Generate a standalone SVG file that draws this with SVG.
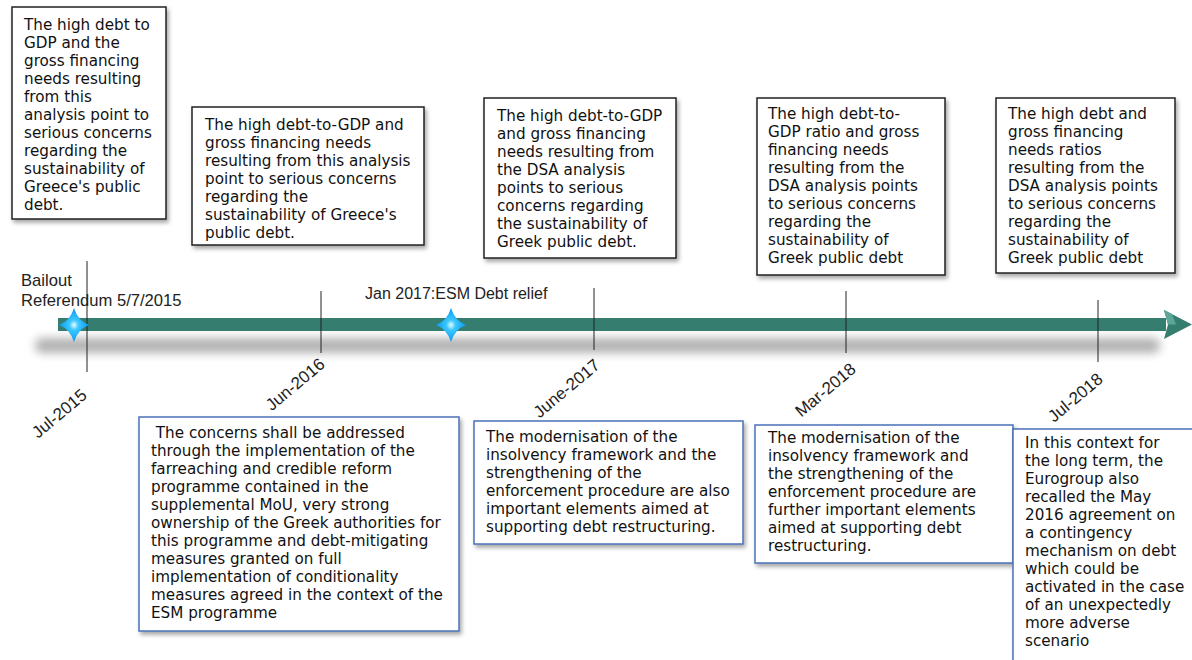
<svg xmlns="http://www.w3.org/2000/svg" width="1192" height="660" viewBox="0 0 1192 660">
<defs>
<style>
.bt{font-family:"DejaVu Sans",Verdana,sans-serif;font-size:15.2px;fill:#111}
.lb{font-family:"Liberation Sans",Arial,sans-serif;font-size:16.6px;fill:#222}
.lb2{font-family:"Liberation Sans",Arial,sans-serif;font-size:16px;fill:#222}
.dt{font-family:"Liberation Sans",Arial,sans-serif;font-size:17px;fill:#222}
.tb{fill:#fff;stroke:#222;stroke-width:1.5}
.bb{fill:#fff;stroke:#4a72b8;stroke-width:1.5}
.tick{stroke:#222;stroke-width:1}
</style>
<filter id="sh" x="-10%" y="-10%" width="130%" height="130%">
<feDropShadow dx="2" dy="3" stdDeviation="2" flood-color="#000" flood-opacity="0.35"/>
</filter>
<filter id="blur" x="-5%" y="-200%" width="110%" height="500%">
<feGaussianBlur stdDeviation="5"/>
</filter>
<radialGradient id="sg" cx="0.5" cy="0.5" r="0.5">
<stop offset="0" stop-color="#e6fbff"/>
<stop offset="0.3" stop-color="#3cc8ff"/>
<stop offset="1" stop-color="#0a98f0"/>
</radialGradient>
<path id="star" d="M0,-17 Q4,-4 15,0 Q4,4 0,17 Q-4,4 -15,0 Q-4,-4 0,-17 Z"/>
</defs>
<rect width="1192" height="660" fill="#fff"/>

<g id="timeline">
<rect x="35" y="338" width="1125" height="15" rx="7" fill="#888" opacity="0.65" filter="url(#blur)"/>
<rect x="58" y="318" width="1108" height="13" fill="#357d6f"/>
<polygon points="1164,310 1192,324.5 1164,339 1168,324.5" fill="#357d6f"/>
<polygon points="1164,310 1172,314 1176,324.5 1168,324.5" fill="#5aa797"/>
</g>

<g id="connectors">
<line class="tick" x1="87" y1="261" x2="87" y2="372"/>
<line class="tick" x1="321" y1="291" x2="321" y2="353"/>
<line class="tick" x1="594" y1="288" x2="594" y2="350"/>
<line class="tick" x1="846" y1="291" x2="846" y2="353"/>
<line class="tick" x1="1098" y1="300" x2="1098" y2="362"/>
</g>

<g id="stars">
<use href="#star" x="74" y="325" fill="url(#sg)"/>
<use href="#star" x="451" y="325" fill="url(#sg)"/>
</g>

<g id="event-labels">
<text class="lb" x="21" y="286">Bailout</text>
<text class="lb" x="21" y="306">Referendum 5/7/2015</text>
<text class="lb2" x="365" y="299">Jan 2017:ESM Debt relief</text>
</g>

<g id="dates">
<text class="dt" text-anchor="end" transform="translate(88,397) rotate(-40)">Jul-2015</text>
<text class="dt" text-anchor="end" transform="translate(326,366) rotate(-40)">Jun-2016</text>
<text class="dt" text-anchor="end" transform="translate(601,367) rotate(-40)">June-2017</text>
<text class="dt" text-anchor="end" transform="translate(857,371) rotate(-40)">Mar-2018</text>
<text class="dt" text-anchor="end" transform="translate(1104,381) rotate(-40)">Jul-2018</text>
</g>

<g id="box-jul2015">
<rect class="tb" x="12" y="7" width="154" height="212" filter="url(#sh)"/>
<text class="bt" x="24" y="30">The high debt to<tspan x="24" dy="18">GDP and the</tspan><tspan x="24" dy="18">gross financing</tspan><tspan x="24" dy="18">needs resulting</tspan><tspan x="24" dy="18">from this</tspan><tspan x="24" dy="18">analysis point to</tspan><tspan x="24" dy="18">serious concerns</tspan><tspan x="24" dy="18">regarding the</tspan><tspan x="24" dy="18">sustainability of</tspan><tspan x="24" dy="18">Greece's public</tspan><tspan x="24" dy="18">debt.</tspan></text>
</g>

<g id="box-jun2016">
<rect class="tb" x="192" y="107" width="232" height="138" filter="url(#sh)"/>
<text class="bt" x="205" y="130">The high debt-to-GDP and<tspan x="205" dy="18">gross financing needs</tspan><tspan x="205" dy="18">resulting from this analysis</tspan><tspan x="205" dy="18">point to serious concerns</tspan><tspan x="205" dy="18">regarding the</tspan><tspan x="205" dy="18">sustainability of Greece's</tspan><tspan x="205" dy="18">public debt.</tspan></text>
</g>

<g id="box-jun2017">
<rect class="tb" x="484" y="98" width="192" height="160" filter="url(#sh)"/>
<text class="bt" x="497" y="121">The high debt-to-GDP<tspan x="497" dy="18">and gross financing</tspan><tspan x="497" dy="18">needs resulting from</tspan><tspan x="497" dy="18">the DSA analysis</tspan><tspan x="497" dy="18">points to serious</tspan><tspan x="497" dy="18">concerns regarding</tspan><tspan x="497" dy="18">the sustainability of</tspan><tspan x="497" dy="18">Greek public debt.</tspan></text>
</g>

<g id="box-mar2018">
<rect class="tb" x="757" y="98" width="188" height="177" filter="url(#sh)"/>
<text class="bt" x="768" y="119">The high debt-to-<tspan x="768" dy="18">GDP ratio and gross</tspan><tspan x="768" dy="18">financing needs</tspan><tspan x="768" dy="18">resulting from the</tspan><tspan x="768" dy="18">DSA analysis points</tspan><tspan x="768" dy="18">to serious concerns</tspan><tspan x="768" dy="18">regarding the</tspan><tspan x="768" dy="18">sustainability of</tspan><tspan x="768" dy="18">Greek public debt</tspan></text>
</g>

<g id="box-jul2018">
<rect class="tb" x="996" y="98" width="179" height="175" filter="url(#sh)"/>
<text class="bt" x="1008" y="119">The high debt and<tspan x="1008" dy="18">gross financing</tspan><tspan x="1008" dy="18">needs ratios</tspan><tspan x="1008" dy="18">resulting from the</tspan><tspan x="1008" dy="18">DSA analysis points</tspan><tspan x="1008" dy="18">to serious concerns</tspan><tspan x="1008" dy="18">regarding the</tspan><tspan x="1008" dy="18">sustainability of</tspan><tspan x="1008" dy="18">Greek public debt</tspan></text>
</g>

<g id="note-jun2016">
<rect class="bb" x="139" y="417" width="320" height="214" filter="url(#sh)"/>
<text class="bt" x="151" y="438" xml:space="preserve"> The concerns shall be addressed<tspan x="151" dy="18">through the implementation of the</tspan><tspan x="151" dy="18">farreaching and credible reform</tspan><tspan x="151" dy="18">programme contained in the</tspan><tspan x="151" dy="18">supplemental MoU, very strong</tspan><tspan x="151" dy="18">ownership of the Greek authorities for</tspan><tspan x="151" dy="18">this programme and debt-mitigating</tspan><tspan x="151" dy="18">measures granted on full</tspan><tspan x="151" dy="18">implementation of conditionality</tspan><tspan x="151" dy="18">measures agreed in the context of the</tspan><tspan x="151" dy="18">ESM programme</tspan></text>
</g>

<g id="note-jun2017">
<rect class="bb" x="474" y="421" width="269" height="123" filter="url(#sh)"/>
<text class="bt" x="486" y="442">The modernisation of the<tspan x="486" dy="18">insolvency framework and the</tspan><tspan x="486" dy="18">strengthening of the</tspan><tspan x="486" dy="18">enforcement procedure are also</tspan><tspan x="486" dy="18">important elements aimed at</tspan><tspan x="486" dy="18">supporting debt restructuring.</tspan></text>
</g>

<g id="note-mar2018">
<rect class="bb" x="755" y="425" width="258" height="138" filter="url(#sh)"/>
<text class="bt" x="768" y="443">The modernisation of the<tspan x="768" dy="18">insolvency framework and</tspan><tspan x="768" dy="18">the strengthening of the</tspan><tspan x="768" dy="18">enforcement procedure are</tspan><tspan x="768" dy="18">further important elements</tspan><tspan x="768" dy="18">aimed at supporting debt</tspan><tspan x="768" dy="18">restructuring.</tspan></text>
</g>

<g id="note-jul2018">
<rect class="bb" x="1013" y="429" width="190" height="240" filter="url(#sh)"/>
<text class="bt" x="1025" y="448">In this context for<tspan x="1025" dy="18">the long term, the</tspan><tspan x="1025" dy="18">Eurogroup also</tspan><tspan x="1025" dy="18">recalled the May</tspan><tspan x="1025" dy="18">2016 agreement on</tspan><tspan x="1025" dy="18">a contingency</tspan><tspan x="1025" dy="18">mechanism on debt</tspan><tspan x="1025" dy="18">which could be</tspan><tspan x="1025" dy="18">activated in the case</tspan><tspan x="1025" dy="18">of an unexpectedly</tspan><tspan x="1025" dy="18">more adverse</tspan><tspan x="1025" dy="18">scenario</tspan></text>
</g>
</svg>
